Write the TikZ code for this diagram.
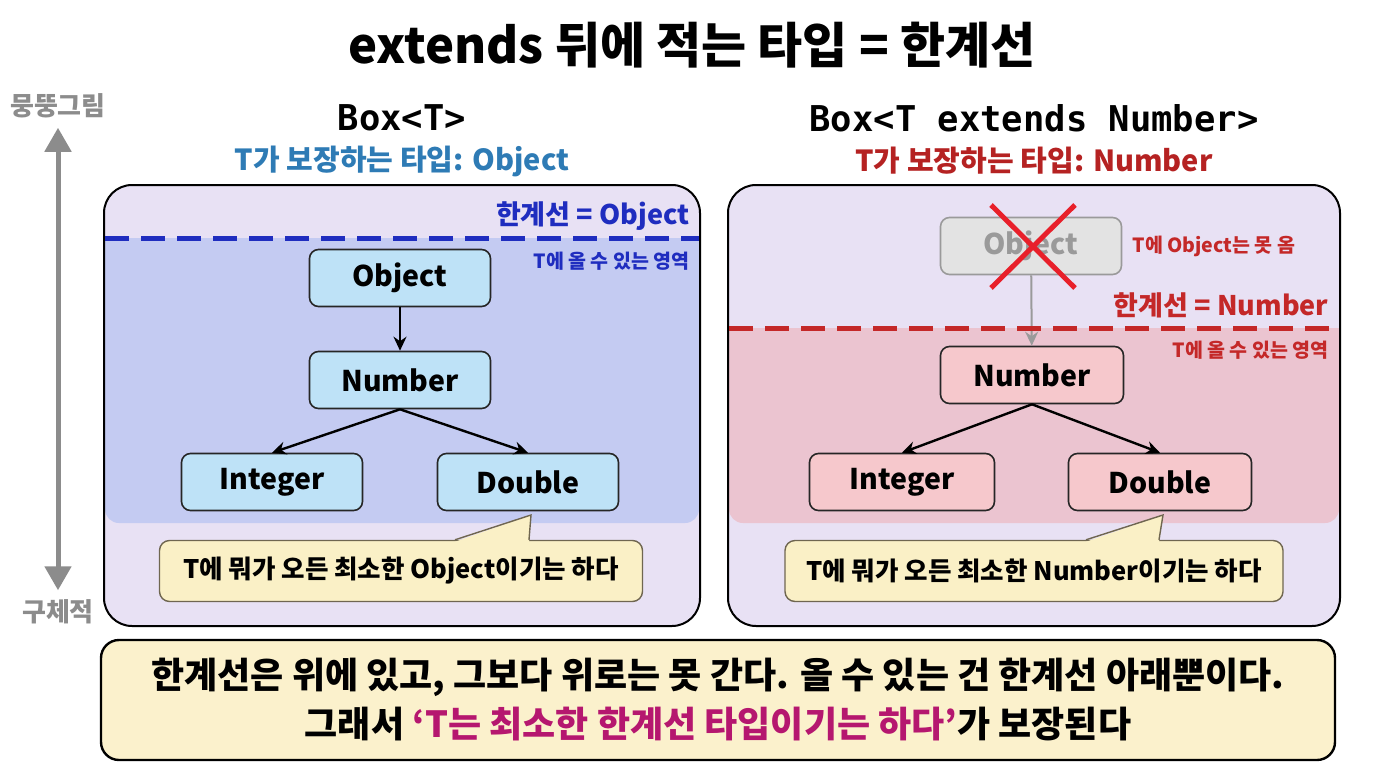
\documentclass[tikz,border=0pt]{standalone}
\usepackage{fontspec}
\setmainfont{Noto Sans CJK KR}
\newfontfamily\codefont{DejaVuSansMono-Bold.ttf}
\usetikzlibrary{arrows.meta}

\definecolor{panelbg}{HTML}{E8E1F4}
\definecolor{bluezone}{HTML}{C4CBF2}
\definecolor{redzone}{HTML}{EBC4D0}
\definecolor{nodeblue}{HTML}{BEE2F7}
\definecolor{nodepink}{HTML}{F6C8CC}
\definecolor{notebg}{HTML}{FAF0C6}
\definecolor{notebd}{HTML}{6F6650}
\definecolor{bottombg}{HTML}{FBF1CC}
\definecolor{axisgray}{HTML}{8C8C8C}
\definecolor{subblue}{HTML}{2E7BB5}
\definecolor{subred}{HTML}{B52222}
\definecolor{limblue}{HTML}{1F2DBF}
\definecolor{limred}{HTML}{C42828}
\definecolor{crossred}{HTML}{E8202A}
\definecolor{ghostgray}{HTML}{9A9A9A}
\definecolor{quotemag}{HTML}{B5176F}

\newcommand{\fsz}[1]{\fontsize{#1}{#1}\selectfont\bfseries}

\tikzset{
  typebox/.style={draw=black!85, line width=1.6pt, rounded corners=9pt,
    minimum width=181pt, minimum height=57pt, font=\fsz{28.5}},
  ghostbox/.style={typebox, fill=black!11, draw=ghostgray, text=ghostgray},
  note/.style={fill=notebg, draw=notebd, line width=1.4pt, rounded corners=10pt,
    minimum height=61pt, font=\fsz{25.5}},
  link/.style={->, line width=2.4pt},
  limtext/.style={anchor=east, font=\fsz{27}},
  zonetext/.style={anchor=east, font=\fsz{19.5}},
  headtext/.style={font=\codefont\fontsize{35.5}{35.5}\selectfont},
  panelline/.style={line width=2pt, rounded corners=28pt},
  dashline/.style={line width=5pt, dash pattern=on 24pt off 12pt}
}

\begin{document}
\begin{tikzpicture}[x=1pt,y=-1pt,>={Stealth[length=14pt,width=13pt]}]
\useasboundingbox (0,0) rectangle (1376,768);

% title
\node[font=\fsz{49}] (title) at (692,45) {extends 뒤에 적는 타입 = 한계선};

% abstract / concrete axis
\node[font=\fsz{26}, text=axisgray] (vague) at (58,106) {뭉뚱그림};
\node[font=\fsz{26}, text=axisgray] (concrete) at (58,612) {구체적};
\draw[<->, axisgray, line width=5pt, >={Triangle[length=24pt,width=26pt]}]
  ([yshift=-6pt]vague.south) -- ([yshift=6pt]concrete.north);

% left panel: Box<T>
\node[headtext] (headL) at (402,118) {Box<T>};
\node[font=\fsz{29}, text=subblue] (subL) at (402,161) {T가 보장하는 타입: Object};
\fill[panelbg, rounded corners=28pt] (104,185) rectangle (700,626);
\fill[bluezone, rounded corners=14pt] (105,238) rectangle (699,523);
\fill[bluezone] (105,238) rectangle (699,270);
\draw[panelline] (104,185) rectangle (700,626);
\draw[dashline, limblue] (105,238) -- (699,238);
\node[limtext, text=limblue] (limL) at (693,216) {한계선 = Object};
\node[zonetext, text=limblue] (zoneL) at (693,261) {T에 올 수 있는 영역};

\node[typebox, fill=nodeblue] (objL) at (400,278) {Object};
\node[typebox, fill=nodeblue] (numL) at (400,380) {Number};
\node[typebox, fill=nodeblue] (intL) at (272,482) {Integer};
\node[typebox, fill=nodeblue] (dblL) at (528,482) {Double};
\draw[link] (objL) -- (numL);
\draw[link] (numL.south) -- (intL.north);
\draw[link] (numL.south) -- (dblL.north);

\node[note, minimum width=483pt] (noteL) at (401,571) {T에 뭐가 오든 최소한 Object이기는 하다};
\coordinate (tipL) at (531,515);
\fill[notebg] ([xshift=54pt,yshift=-2pt]noteL.north) -- (tipL) -- ([xshift=128pt,yshift=-2pt]noteL.north) -- cycle;
\draw[notebd, line width=1.4pt] ([xshift=54pt]noteL.north) -- (tipL) -- ([xshift=128pt]noteL.north);

% right panel: Box<T extends Number>
\node[headtext] (headR) at (1034,118) {Box<T extends Number>};
\node[font=\fsz{29}, text=subred] (subR) at (1034,161) {T가 보장하는 타입: Number};
\fill[panelbg, rounded corners=28pt] (728,185) rectangle (1340,626);
\fill[redzone, rounded corners=14pt] (729,328) rectangle (1339,523);
\fill[redzone] (729,328) rectangle (1339,360);
\draw[panelline] (728,185) rectangle (1340,626);
\node[limtext, text=limred] (limR) at (1332,305) {한계선 = Number};
\node[zonetext, text=limred] (zoneR) at (1332,350) {T에 올 수 있는 영역};

\node[ghostbox] (ghost) at (1031,246) {Object};
\node[anchor=west, font=\fsz{19.5}, text=limred] (nogo) at (1129,246) {T에 Object는 못 옴};
\draw[crossred, line width=5pt] (991,205) -- (1075,288);
\draw[crossred, line width=5pt] (1075,205) -- (991,288);

\node[typebox, fill=nodepink, minimum width=183pt] (numR) at (1032,375) {Number};
\node[typebox, fill=nodepink, minimum width=185pt] (intR) at (902,482) {Integer};
\node[typebox, fill=nodepink, minimum width=183pt] (dblR) at (1160,482) {Double};
\draw[link, ghostgray, line width=2pt] (ghost) -- (numR);
\draw[dashline, limred] (729,328) -- (1339,328);
\draw[link] (numR.south) -- (intR.north);
\draw[link] (numR.south) -- (dblR.north);

\node[note, minimum width=498pt] (noteR) at (1034,571) {T에 뭐가 오든 최소한 Number이기는 하다};
\coordinate (tipR) at (1163,515);
\fill[notebg] ([xshift=52pt,yshift=-2pt]noteR.north) -- (tipR) -- ([xshift=125pt,yshift=-2pt]noteR.north) -- cycle;
\draw[notebd, line width=1.4pt] ([xshift=52pt]noteR.north) -- (tipR) -- ([xshift=125pt]noteR.north);

% summary
\node[fill=bottombg, draw, line width=2.4pt, rounded corners=18pt,
  minimum width=1234pt, minimum height=120pt, align=center,
  font=\fontsize{36}{49}\selectfont\bfseries] (summary) at (718,700)
  {한계선은 위에 있고, 그보다 위로는 못 간다. 올 수 있는 건 한계선 아래뿐이다.\\
   그래서 {\color{quotemag}‘T는 최소한 한계선 타입이기는 하다’}가 보장된다};
\end{tikzpicture}
\end{document}
